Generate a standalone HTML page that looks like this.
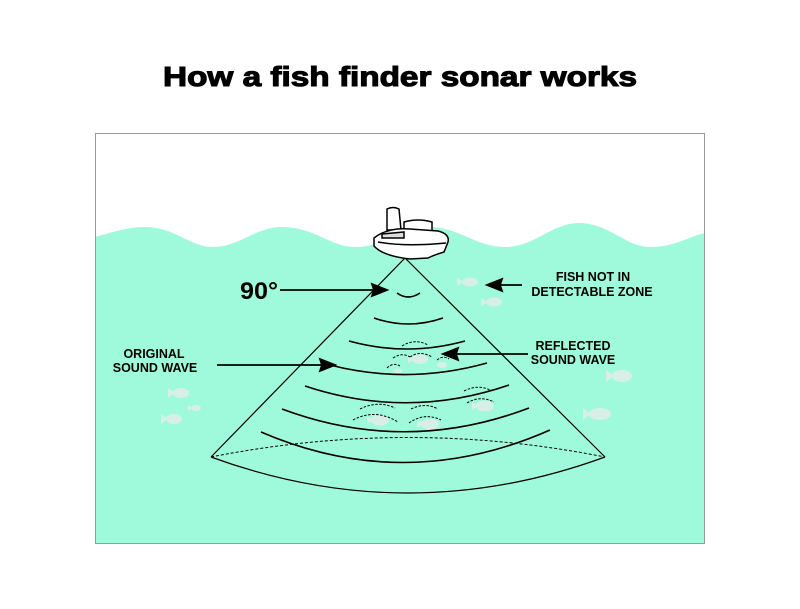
<!DOCTYPE html>
<html><head><meta charset="utf-8"><style>
html,body{margin:0;padding:0;background:#fff}
svg{display:block}
text{font-family:"Liberation Sans",Arial,sans-serif;font-weight:bold;fill:#000}
</style></head><body>
<svg width="800" height="609" viewBox="0 0 800 609" xmlns="http://www.w3.org/2000/svg">
<rect width="800" height="609" fill="#fff"/>
<text x="163" y="86" font-size="28" textLength="474" lengthAdjust="spacingAndGlyphs" stroke="#000" stroke-width="1.1">How a fish finder sonar works</text>
<path d="M95,237 C120,230 130,227 145,227 C175,227 190,247 212,247 C240,247 255,227 282,227 C315,227 330,247 355,247 C385,247 400,227 428,227 C460,227 475,247 505,247 C535,247 550,224 578,223 C610,223 625,247 650,247 C675,247 690,236 705,233 L705,544 L95,544 Z" fill="#9ffadb"/>
<rect x="95.5" y="133.5" width="609" height="410" fill="none" stroke="#999" stroke-width="1"/>
<g fill="#dfeeea" opacity="0.9">
<g transform="translate(470,282)"><ellipse rx="8" ry="4.5"/><path d="M-6,0 L-13,-4 L-13,4 Z"/></g>
<g transform="translate(494,302)"><ellipse rx="8" ry="4.5"/><path d="M-6,0 L-13,-4 L-13,4 Z"/></g>
<g transform="translate(622,376)"><ellipse rx="10" ry="6"/><path d="M-8,0 L-16,-6 L-16,6 Z"/></g>
<g transform="translate(181,393)"><ellipse rx="8" ry="5"/><path d="M-6,0 L-13,-5 L-13,5 Z"/></g>
<g transform="translate(196,408)"><ellipse rx="5" ry="3"/><path d="M-4,0 L-8,-3 L-8,3 Z"/></g>
<g transform="translate(174,419)"><ellipse rx="8" ry="5"/><path d="M-6,0 L-13,-5 L-13,5 Z"/></g>
<g transform="translate(600,414)"><ellipse rx="11" ry="6"/><path d="M-9,0 L-17,-6 L-17,6 Z"/></g>
<g transform="translate(420,359)"><ellipse rx="8" ry="5"/><path d="M-6,0 L-12,-4 L-12,4 Z"/></g>
<g transform="translate(398,371)"><ellipse rx="4" ry="2.5"/></g>
<g transform="translate(442,365)"><ellipse rx="5" ry="3"/></g>
<g transform="translate(380,420)"><ellipse rx="9" ry="5.5"/><path d="M-7,0 L-13,-4 L-13,4 Z"/></g>
<g transform="translate(430,424)"><ellipse rx="9" ry="5.5"/><path d="M-7,0 L-13,-4 L-13,4 Z"/></g>
<g transform="translate(485,406)"><ellipse rx="9" ry="5.5"/><path d="M-7,0 L-13,-4 L-13,4 Z"/></g>
</g>
<g fill="none" stroke="#000" stroke-width="1.2">
<path d="M211,457 L405,258 L605,457"/>
<path d="M211,457 Q408,529 605,457"/>
</g>
<g fill="none" stroke="#000" stroke-width="1.6">
<path d="M397,293 Q408,301 420,293"/>
<path d="M374,318 Q408,330 443,318"/>
<path d="M349,341 Q407,357 465,341"/>
<path d="M330,365 Q408,385 487,363"/>
<path d="M305,386 Q407,420 509,385"/>
<path d="M282,409 Q405,455 529,408"/>
<path d="M261,432 Q405,494 550,430"/>
</g>
<path d="M211,457 Q408,418 605,457" fill="none" stroke="#000" stroke-width="1" stroke-dasharray="3,2"/>
<g fill="none" stroke="#000" stroke-width="1" stroke-dasharray="2.5,1.5">
<path d="M402,346 Q415,338 428,345"/>
<path d="M393,358 Q402,352 410,357"/>
<path d="M410,357 Q420,350 432,357"/>
<path d="M387,368 Q393,362 400,366"/>
<path d="M437,360 Q443,355 449,359"/>
<path d="M360,409 Q378,400 395,408"/>
<path d="M353,420 Q375,408 398,422"/>
<path d="M411,409 Q425,402 438,409"/>
<path d="M409,423 Q425,412 441,420"/>
<path d="M464,391 Q478,384 490,390"/>
<path d="M467,403 Q480,395 494,402"/>
</g>
<g stroke="#000" stroke-width="1.5" fill="#fff">
<path d="M387,230 L387,209 Q393,206 399,209 L401,230 Z"/>
<path d="M404,230 L404,222 Q418,218 432,222 L432,236 L404,236 Z"/>
<path d="M374,238 Q388,227 410,229 L438,231 Q450,234 448,242 L444,252 Q434,255 428,258 L410,259 Q383,256 374,246 Z"/>
<path d="M378,242 Q405,247 446,243" fill="none"/>
<path d="M382,234 L404,232 L404,238 L382,238 Z" fill="#ddd"/>
</g>
<g stroke="#000" stroke-width="1.8" fill="#000">
<line x1="280" y1="290" x2="376" y2="290"/><path d="M387,290 L372,284 L374,290 L372,296 Z"/>
<line x1="522" y1="285" x2="498" y2="285"/><path d="M487,285 L502,279 L500,285 L502,291 Z"/>
<line x1="217" y1="365" x2="324" y2="365"/><path d="M335,365 L320,359 L322,365 L320,371 Z"/>
<line x1="528" y1="354" x2="454" y2="354"/><path d="M443,354 L458,348 L456,354 L458,360 Z"/>
</g>
<text x="240" y="299" font-size="24" textLength="38" lengthAdjust="spacingAndGlyphs">90°</text>
<g font-size="12.5" text-anchor="middle">
<text x="593" y="281">FISH NOT IN</text>
<text x="592" y="296">DETECTABLE ZONE</text>
<text x="573" y="350">REFLECTED</text>
<text x="573" y="364">SOUND WAVE</text>
<text x="154" y="358">ORIGINAL</text>
<text x="155" y="372">SOUND WAVE</text>
</g>
</svg>
</body></html>
